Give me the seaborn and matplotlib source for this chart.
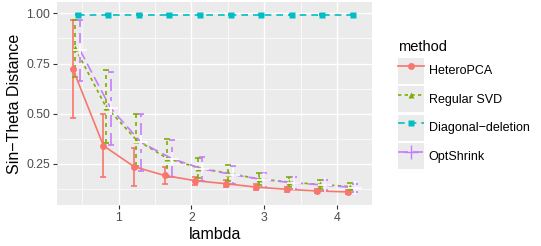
import numpy as np
import pandas as pd
import matplotlib
matplotlib.use('Agg')
import matplotlib.pyplot as plt
import seaborn as sns
from matplotlib.lines import Line2D
from matplotlib.patches import Patch
from matplotlib.legend_handler import HandlerTuple

# values
lam = [0.42, 0.84, 1.26, 1.68, 2.10, 2.52, 2.94, 3.36, 3.78, 4.20]
methods = ['HeteroPCA', 'Regular SVD', 'Diagonal\u2212deletion', 'OptShrink']

hetero_mean = [0.723, 0.341, 0.237, 0.193, 0.167, 0.152, 0.135, 0.124, 0.116, 0.111]
hetero_sd = [0.243, 0.158, 0.094, 0.043, 0.020, 0.016, 0.013, 0.012, 0.011, 0.010]
svd_mean = [0.825, 0.536, 0.370, 0.279, 0.232, 0.204, 0.176, 0.160, 0.148, 0.138]
svd_sd = [0.142, 0.180, 0.130, 0.095, 0.050, 0.040, 0.030, 0.025, 0.020, 0.015]
diag_mean = [0.993, 0.993, 0.993, 0.993, 0.993, 0.993, 0.993, 0.993, 0.993, 0.993]
diag_sd = [0.002, 0.002, 0.002, 0.002, 0.002, 0.002, 0.002, 0.002, 0.002, 0.002]
opt_mean = [0.815, 0.527, 0.357, 0.277, 0.226, 0.197, 0.172, 0.156, 0.145, 0.132]
opt_sd = [0.150, 0.180, 0.140, 0.090, 0.060, 0.045, 0.035, 0.030, 0.025, 0.020]

colors = ['#F8766D', '#7CAE00', '#00BFC4', '#C77CFF']
markers = ['o', '^', 's', '+']
dashes = ['', (2, 2), (4, 3), (6, 3)]
dodge = [-0.05, -0.017, 0.017, 0.05]

means = [hetero_mean, svd_mean, diag_mean, opt_mean]
sds = [hetero_sd, svd_sd, diag_sd, opt_sd]

frames = []
for m, mu, sd, off in zip(methods, means, sds, dodge):
    frames.append(pd.DataFrame({'lambda': np.array(lam) + off, 'dist': mu,
                                'sd': sd, 'method': m}))
df = pd.concat(frames, ignore_index=True)

plt.rcParams['font.family'] = ['Liberation Sans', 'DejaVu Sans']

fig = plt.figure(figsize=(5.41, 2.46), dpi=100)
ax = fig.add_axes([57.3 / 541, 41 / 246, (372 - 57.3) / 541, 203 / 246])
ax.set_facecolor('#EBEBEB')

lw = 1.2
sns.lineplot(data=df, x='lambda', y='dist', hue='method', style='method',
             hue_order=methods, style_order=methods, palette=colors,
             markers=False, dashes=dashes, linewidth=lw, ax=ax, legend=False,
             zorder=3)
for line, m, mk in zip(ax.get_lines(), methods, markers):
    line.set_marker(mk)
    if mk == '+':
        line.set_markersize(10)
        line.set_markeredgewidth(1.2)
    else:
        line.set_markersize(5)
        line.set_markeredgecolor('none')

# error bars in the same linetype as the lines
for m, c, d in zip(methods, colors, dashes):
    sub = df[df['method'] == m]
    eb = ax.errorbar(sub['lambda'], sub['dist'], yerr=sub['sd'], fmt='none',
                     ecolor=c, elinewidth=lw, capsize=2.2, capthick=lw, zorder=2)
    if d != '':
        eb[2][0].set_linestyle((0, tuple(v * lw for v in d)))

ax.set_xlim(0.156, 4.481)
ax.set_ylim(0.046, 1.056)
ax.set_xticks([1, 2, 3, 4])
ax.set_xticks([0.5, 1.5, 2.5, 3.5], minor=True)
ax.set_yticks([0.25, 0.5, 0.75, 1.0])
ax.set_yticklabels(['0.25', '0.50', '0.75', '1.00'])
ax.set_yticks([0.125, 0.375, 0.625, 0.875], minor=True)
ax.grid(which='major', color='white', linewidth=1.0)
ax.grid(which='minor', color='white', linewidth=0.5)
ax.set_axisbelow(True)
for s in ax.spines.values():
    s.set_visible(False)
ax.tick_params(which='major', length=3, width=0.8, color='#333333',
               labelsize=8.8, labelcolor='#4D4D4D', pad=2)
ax.tick_params(which='minor', length=0)
ax.set_xlabel('lambda', fontsize=11.5, labelpad=2)
ax.set_ylabel('Sin\u2212Theta Distance', fontsize=11.5, labelpad=3)

handles = []
for m, c, mk, d in zip(methods, colors, markers, dashes):
    ls = '-' if d == '' else (0, d)
    ln = Line2D([], [], color=c, linewidth=lw, linestyle=ls, marker=mk,
                markersize=5 if mk != '+' else 10,
                markeredgecolor=c if mk == '+' else 'none')
    handles.append((Patch(facecolor='#EBEBEB', edgecolor='none'), ln))

leg = fig.legend(handles, methods, handler_map={tuple: HandlerTuple(ndivide=1)},
                 loc='upper left', bbox_to_anchor=(388 / 541, 1 - 30 / 246),
                 frameon=False, fontsize=9, title='method', title_fontsize=10.5,
                 handlelength=2.1, handleheight=2.82, labelspacing=0.2,
                 handletextpad=0.35, alignment='left', borderpad=0.3)
leg._legend_box.sep = 2.7

fig.savefig('out.png', dpi=100)
